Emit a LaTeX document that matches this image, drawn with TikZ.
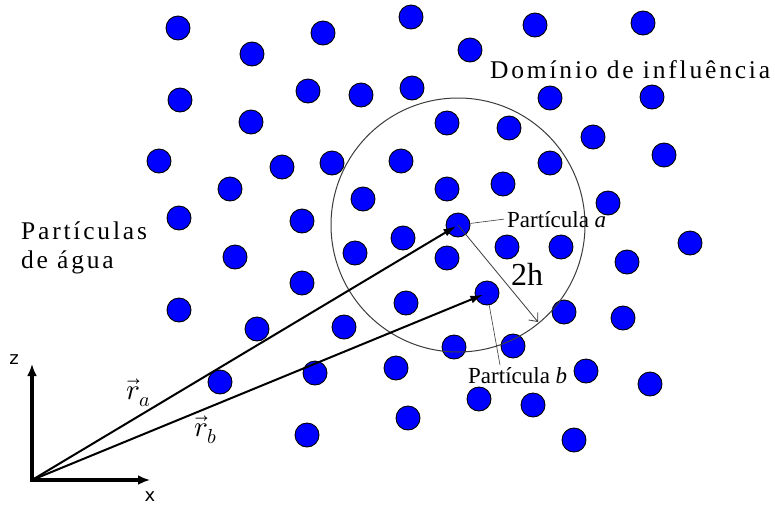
\documentclass[tikz,border=0pt]{standalone}
\usepackage{fontspec}
\usepackage{unicode-math}
\setmainfont{Liberation Serif}
\setsansfont{DejaVu Sans}
\setmathfont{Latin Modern Math}
\newfontfamily\spacedfont[LetterSpace=11]{Liberation Serif}
\usetikzlibrary{arrows.meta}
\definecolor{partblue}{RGB}{0,0,255}
\definecolor{domgray}{RGB}{60,60,60}
\begin{document}
\begin{tikzpicture}[x=1pt,y=-1pt,
  part/.style={circle,fill=partblue,draw=black,line width=0.9pt,minimum size=24pt,inner sep=0pt},
  axis/.style={line width=3.2pt,-{Latex[length=12pt,width=10pt]}},
  vecline/.style={line width=2pt,-{Latex[length=13pt,width=8pt]}},
  domcircle/.style={draw=domgray,line width=1pt},
  leader/.style={draw=domgray,line width=0.6pt},
  hline/.style={draw=domgray,line width=0.8pt,-{Straight Barb[length=7pt,width=12pt]}},
  lbl/.style={inner sep=0pt,font=\fontsize{23}{27}\selectfont},
  veclbl/.style={inner sep=0pt,font=\fontsize{29}{33}\selectfont},
  biglbl/.style={inner sep=0pt,font=\spacedfont\fontsize{25.5}{29}\selectfont},
  axlbl/.style={inner sep=0pt,font=\sffamily\fontsize{18}{21}\selectfont}]
\useasboundingbox (0,0) rectangle (775,509);
\fill[white] (0,0) rectangle (775,509);
% particles
\foreach \px/\py [count=\i] in {178/28,252/54,323/33,411/17,470/50,535/25,643/23,
  180/100,308/91,361/95,412/88,550/98,652/97,251/122,447/123,509/128,593/137,
  159/161,282/167,332/163,401/161,550/163,664/155,230/189,363/199,447/189,503/184,608/203,
  179/218,302/221,458/225,403/238,507/247,561/247,690/243,235/257,355/253,447/258,627/262,
  302/283,487/293,179/310,406/303,564/312,623/318,257/329,344/327,454/347,513/346,
  396/368,586/371,220/382,315/373,650/384,479/399,533/405,408/418,307/435,574/440}
  \node[part] (p\i) at (\px,\py) {};
% domain of influence
\draw[domcircle] (p31.center) circle[radius=127pt];
% axes
\coordinate (O) at (32,480);
\coordinate (zend) at (32,364);
\coordinate (xend) at (150,480);
\draw[axis] ([yshift=-1.6pt]O) -- (zend);
\draw[axis] ([xshift=-1.6pt]O) -- (xend);
\node[axlbl] (zl) at (14,360) {z};
\node[axlbl] (xl) at (150,497) {x};
% position vectors
\draw[vecline,shorten >=2pt] (O) -- (p31.center);
\draw[vecline,shorten >=4pt] (O) -- (p41.center);
\node[veclbl] (ra) at (139,393) {$\vec{r}_a$};
\node[veclbl] (rb) at (206,430) {$\vec{r}_b$};
% 2h
\coordinate (hend) at (538,322);
\draw[hline] (p31.center) -- (hend);
\node[inner sep=0pt,anchor=base west,font=\fontsize{32}{36}\selectfont] (h2) at (511,285) {2h};
% particle labels
\node[lbl,anchor=base west] (la) at (507,227) {Partícula \textit{a}};
\node[lbl,anchor=base west] (lb) at (468,383) {Partícula \textit{b}};
\coordinate (lbtop) at (500,365);
\draw[leader] (p31) -- ([xshift=-3pt]la.west);
\draw[leader] (p41) -- (lbtop);
% big texts
\node[biglbl,anchor=base west] (dom) at (490,78) {Domínio de influência};
\node[biglbl,anchor=base west] (pa1) at (21,239) {Partículas};
\node[biglbl,anchor=base west] (pa2) at (21,268) {de água};
\end{tikzpicture}
\end{document}
